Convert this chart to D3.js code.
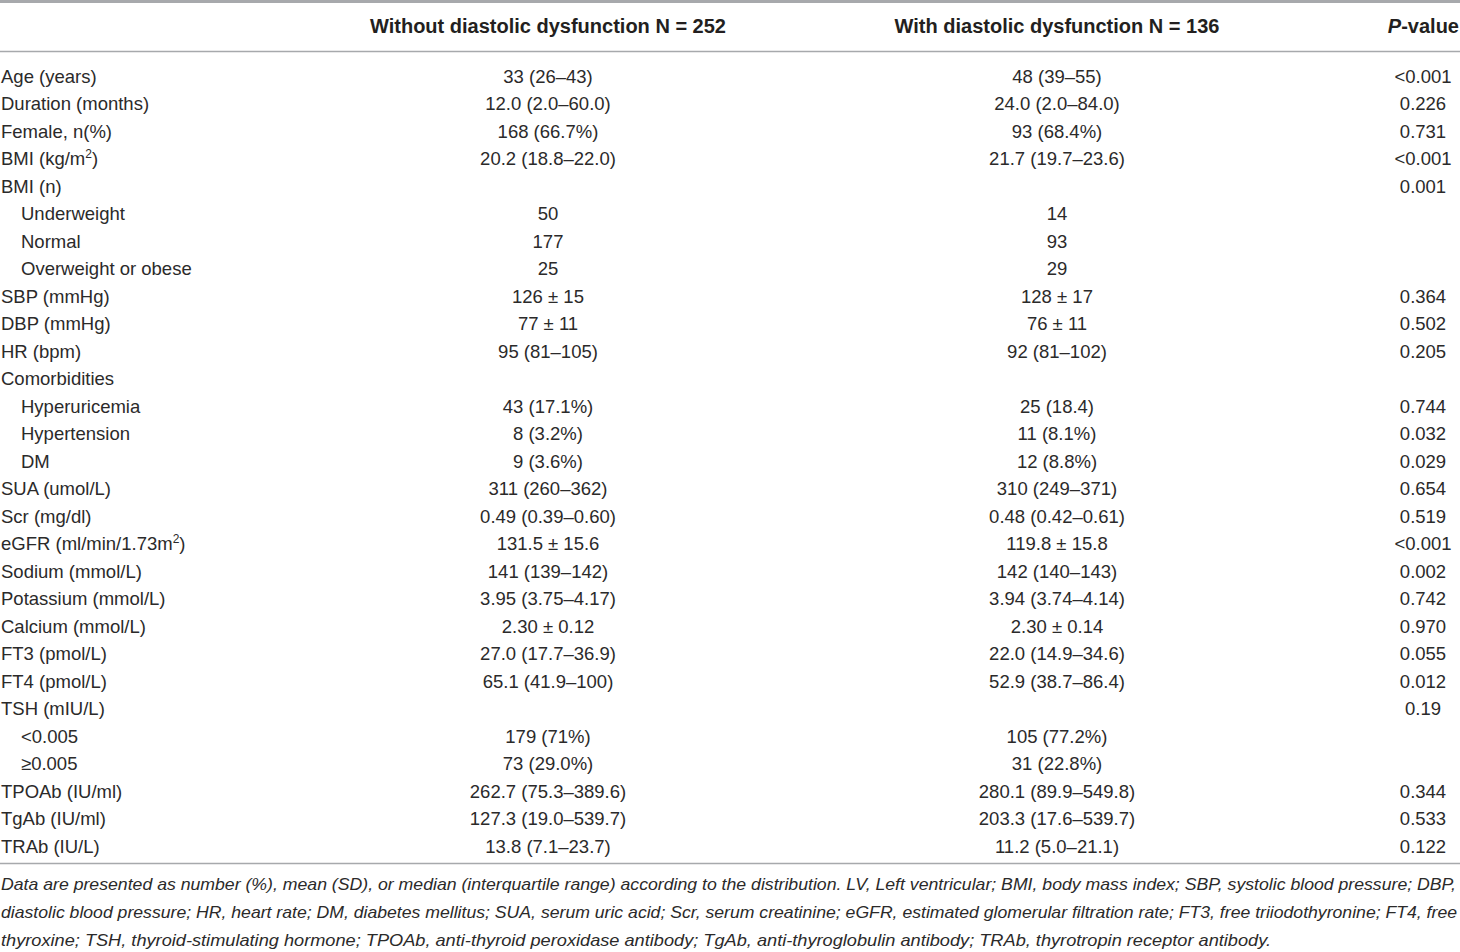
<!DOCTYPE html>
<html>
<head>
<meta charset="utf-8">
<script src="https://cdn.jsdelivr.net/npm/d3@7"></script>
<style>
  body { margin: 0; background: #fff; }
  svg { display: block; font-family: "Liberation Sans", Arial, sans-serif; }
</style>
</head>
<body>
<svg id="table" width="1460" height="952"></svg>
<script>
// table content
var headers = ["", "Without diastolic dysfunction N = 252", "With diastolic dysfunction N = 136", "P-value"];

var rowLabels = [
  "Age (years)", "Duration (months)", "Female, n(%)", "BMI (kg/m^2)", "BMI (n)",
  "Underweight", "Normal", "Overweight or obese",
  "SBP (mmHg)", "DBP (mmHg)", "HR (bpm)", "Comorbidities",
  "Hyperuricemia", "Hypertension", "DM",
  "SUA (umol/L)", "Scr (mg/dl)", "eGFR (ml/min/1.73m^2)", "Sodium (mmol/L)",
  "Potassium (mmol/L)", "Calcium (mmol/L)", "FT3 (pmol/L)", "FT4 (pmol/L)",
  "TSH (mIU/L)", "<0.005", "≥0.005",
  "TPOAb (IU/ml)", "TgAb (IU/ml)", "TRAb (IU/L)"
];

var subRows = ["Underweight", "Normal", "Overweight or obese", "Hyperuricemia",
  "Hypertension", "DM", "<0.005", "≥0.005"];

var withoutDD = [
  "33 (26–43)", "12.0 (2.0–60.0)", "168 (66.7%)", "20.2 (18.8–22.0)", "",
  "50", "177", "25",
  "126 ± 15", "77 ± 11", "95 (81–105)", "",
  "43 (17.1%)", "8 (3.2%)", "9 (3.6%)",
  "311 (260–362)", "0.49 (0.39–0.60)", "131.5 ± 15.6", "141 (139–142)",
  "3.95 (3.75–4.17)", "2.30 ± 0.12", "27.0 (17.7–36.9)", "65.1 (41.9–100)",
  "", "179 (71%)", "73 (29.0%)",
  "262.7 (75.3–389.6)", "127.3 (19.0–539.7)", "13.8 (7.1–23.7)"
];

var withDD = [
  "48 (39–55)", "24.0 (2.0–84.0)", "93 (68.4%)", "21.7 (19.7–23.6)", "",
  "14", "93", "29",
  "128 ± 17", "76 ± 11", "92 (81–102)", "",
  "25 (18.4)", "11 (8.1%)", "12 (8.8%)",
  "310 (249–371)", "0.48 (0.42–0.61)", "119.8 ± 15.8", "142 (140–143)",
  "3.94 (3.74–4.14)", "2.30 ± 0.14", "22.0 (14.9–34.6)", "52.9 (38.7–86.4)",
  "", "105 (77.2%)", "31 (22.8%)",
  "280.1 (89.9–549.8)", "203.3 (17.6–539.7)", "11.2 (5.0–21.1)"
];

var pValues = [
  "<0.001", "0.226", "0.731", "<0.001", "0.001",
  "", "", "",
  "0.364", "0.502", "0.205", "",
  "0.744", "0.032", "0.029",
  "0.654", "0.519", "<0.001", "0.002",
  "0.742", "0.970", "0.055", "0.012",
  "0.19", "", "",
  "0.344", "0.533", "0.122"
];

var footnote = [
  "Data are presented as number (%), mean (SD), or median (interquartile range) according to the distribution. LV, Left ventricular; BMI, body mass index; SBP, systolic blood pressure; DBP,",
  "diastolic blood pressure; HR, heart rate; DM, diabetes mellitus; SUA, serum uric acid; Scr, serum creatinine; eGFR, estimated glomerular filtration rate; FT3, free triiodothyronine; FT4, free",
  "thyroxine; TSH, thyroid-stimulating hormone; TPOAb, anti-thyroid peroxidase antibody; TgAb, anti-thyroglobulin antibody; TRAb, thyrotropin receptor antibody."
];
var footnoteWidths = [1455, 1456, 1270];

var svg = d3.select("#table");
var textColor = "#2b2a2a";
var ruleColor = "#a7a9ac";

var y = d3.scalePoint()
  .domain(d3.range(rowLabels.length))
  .range([76, 846]);

var colX = d3.scaleOrdinal()
  .domain([1, 2, 3])
  .range([548, 1057, 1423]);

// rules
svg.append("line").attr("x1", 0).attr("x2", 1460).attr("y1", 1.5).attr("y2", 1.5)
  .attr("stroke", ruleColor).attr("stroke-width", 3);
svg.append("line").attr("x1", 0).attr("x2", 1460).attr("y1", 51.5).attr("y2", 51.5)
  .attr("stroke", ruleColor).attr("stroke-width", 1.5);
svg.append("line").attr("x1", 0).attr("x2", 1460).attr("y1", 863.5).attr("y2", 863.5)
  .attr("stroke", ruleColor).attr("stroke-width", 1.5);

// header
var head = svg.append("g").attr("font-weight", "bold").attr("font-size", 20).attr("fill", "#231f20");
head.append("text").attr("x", colX(1)).attr("y", 33).attr("text-anchor", "middle").text(headers[1]);
head.append("text").attr("x", colX(2)).attr("y", 33).attr("text-anchor", "middle").text(headers[2]);
var pv = head.append("text").attr("x", 1459).attr("y", 33).attr("text-anchor", "end");
pv.append("tspan").attr("font-style", "italic").text("P");
pv.append("tspan").text("-value");

// label with optional superscript written as ^2
function writeLabel(sel, s) {
  var parts = s.split("^");
  sel.append("tspan").text(parts[0]);
  if (parts.length > 1) {
    sel.append("tspan").attr("font-size", 12).attr("dy", -7).text(parts[1][0]);
    sel.append("tspan").attr("dy", 7).text(parts[1].slice(1));
  }
}

var body = svg.append("g").attr("font-size", 18.5).attr("fill", textColor);

var rows = body.selectAll("g.row")
  .data(rowLabels)
  .enter()
  .append("g")
  .attr("class", "row")
  .attr("transform", function(d, i) { return "translate(0," + (y(i) + 6.5) + ")"; });

rows.append("text")
  .attr("x", function(d) { return subRows.indexOf(d) >= 0 ? 21 : 1; })
  .each(function(d) { writeLabel(d3.select(this), d); });

rows.append("text")
  .attr("x", colX(1)).attr("text-anchor", "middle")
  .text(function(d, i) { return withoutDD[i]; });

rows.append("text")
  .attr("x", colX(2)).attr("text-anchor", "middle")
  .text(function(d, i) { return withDD[i]; });

rows.append("text")
  .attr("x", colX(3)).attr("text-anchor", "middle")
  .text(function(d, i) { return pValues[i]; });

// footnote
svg.append("g").attr("font-size", 17).attr("font-style", "italic").attr("fill", textColor)
  .selectAll("text")
  .data(footnote)
  .enter()
  .append("text")
  .attr("x", 1)
  .attr("y", function(d, i) { return 890 + i * 28; })
  .attr("textLength", function(d, i) { return footnoteWidths[i]; })
  .attr("lengthAdjust", "spacingAndGlyphs")
  .text(function(d) { return d; });
</script>
</body>
</html>
